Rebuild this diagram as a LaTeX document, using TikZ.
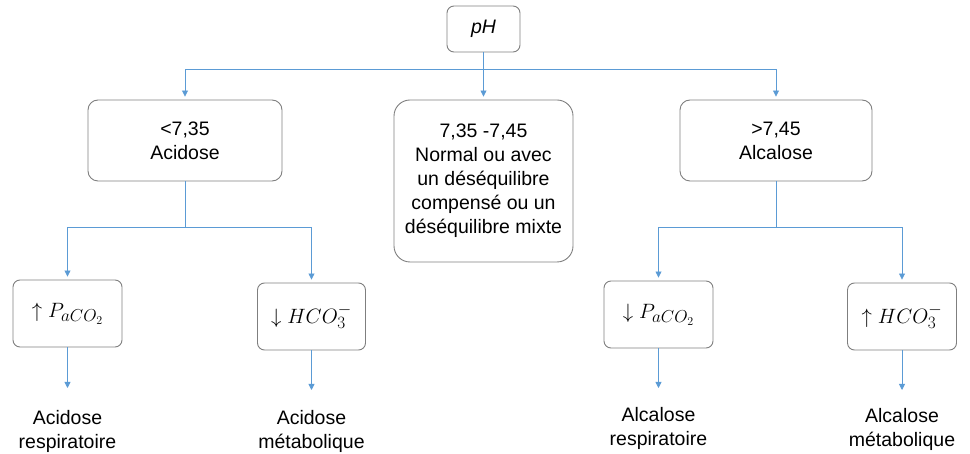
\documentclass[tikz,border=0pt]{standalone}
\usepackage{fontspec}
\setmainfont{Liberation Sans}
\usetikzlibrary{arrows.meta}
\DeclareMathSizes{21}{21}{16}{12}
\definecolor{lnblue}{HTML}{5B9BD5}
\definecolor{bxgray}{HTML}{7F7F7F}
\tikzset{
  box/.style={draw=bxgray, line width=0.9pt, rounded corners=7pt, align=center, inner sep=0pt,
    font=\fontsize{19.5}{24}\selectfont},
  mbox/.style={box, font=\fontsize{21}{24}\selectfont},
  lbl/.style={align=center, inner sep=0pt, font=\fontsize{19.5}{24}\selectfont},
  wire/.style={draw=lnblue, line width=0.8pt},
  arr/.style={wire, -{Triangle[length=6pt,width=6pt]}, shorten >=3pt}
}
\begin{document}
\begin{tikzpicture}[x=1pt,y=-1pt]
\useasboundingbox (0,0) rectangle (970,454);
% main nodes
\node[box, minimum width=73pt, minimum height=46pt] (ph) at (483.5,29) {\itshape pH};
\node[box, minimum width=194pt, minimum height=81pt, rounded corners=10pt] (acid) at (185,140.5) {<7,35\\Acidose};
\node[box, minimum width=179pt, minimum height=162pt, rounded corners=16pt] (norm) at (483.5,181)
  {7,35 -7,45\\Normal ou avec\\un déséquilibre\\compensé ou un\\déséquilibre mixte};
\node[box, minimum width=192pt, minimum height=81pt, rounded corners=10pt] (alc) at (776,140.5) {>7,45\\Alcalose};
% second level
\node[mbox, minimum width=109pt, minimum height=67pt] (b1) at (67.5,313.5) {$\uparrow P_{aCO_2}$};
\node[mbox, minimum width=108pt, minimum height=67pt] (b2) at (311.5,316.5) {$\downarrow HCO_3^-$};
\node[mbox, minimum width=109pt, minimum height=67pt] (b3) at (658.5,314.5) {$\downarrow P_{aCO_2}$};
\node[mbox, minimum width=109pt, minimum height=67pt] (b4) at (902,316.5) {$\uparrow HCO_3^-$};
% result texts
\node[lbl, anchor=north] (t1) at (67.5,410) {Acidose\\respiratoire};
\node[lbl, anchor=north] (t2) at (311.5,410) {Acidose\\métabolique};
\node[lbl, anchor=north] (t3) at (658.5,407) {Alcalose\\respiratoire};
\node[lbl, anchor=north] (t4) at (902,408) {Alcalose\\métabolique};
% junctions
\coordinate (j0) at (483.5,69);
\coordinate (j1) at (185,227);
\coordinate (j2) at (776,227);
% connectors
\draw[wire] (ph.south) -- (j0);
\draw[arr] (j0) -| (acid.north);
\draw[arr] (j0) -| (alc.north);
\draw[arr] (ph.south) -- (norm.north);
\draw[wire] (acid.south) -- (j1);
\draw[arr] (j1) -| (b1.north);
\draw[arr] (j1) -| (b2.north);
\draw[wire] (alc.south) -- (j2);
\draw[arr] (j2) -| (b3.north);
\draw[arr] (j2) -| (b4.north);
\draw[arr, shorten >=22pt] (b1.south) -- (t1.north);
\draw[arr, shorten >=20pt] (b2.south) -- (t2.north);
\draw[arr, shorten >=19pt] (b3.south) -- (t3.north);
\draw[arr, shorten >=18pt] (b4.south) -- (t4.north);
\end{tikzpicture}
\end{document}
